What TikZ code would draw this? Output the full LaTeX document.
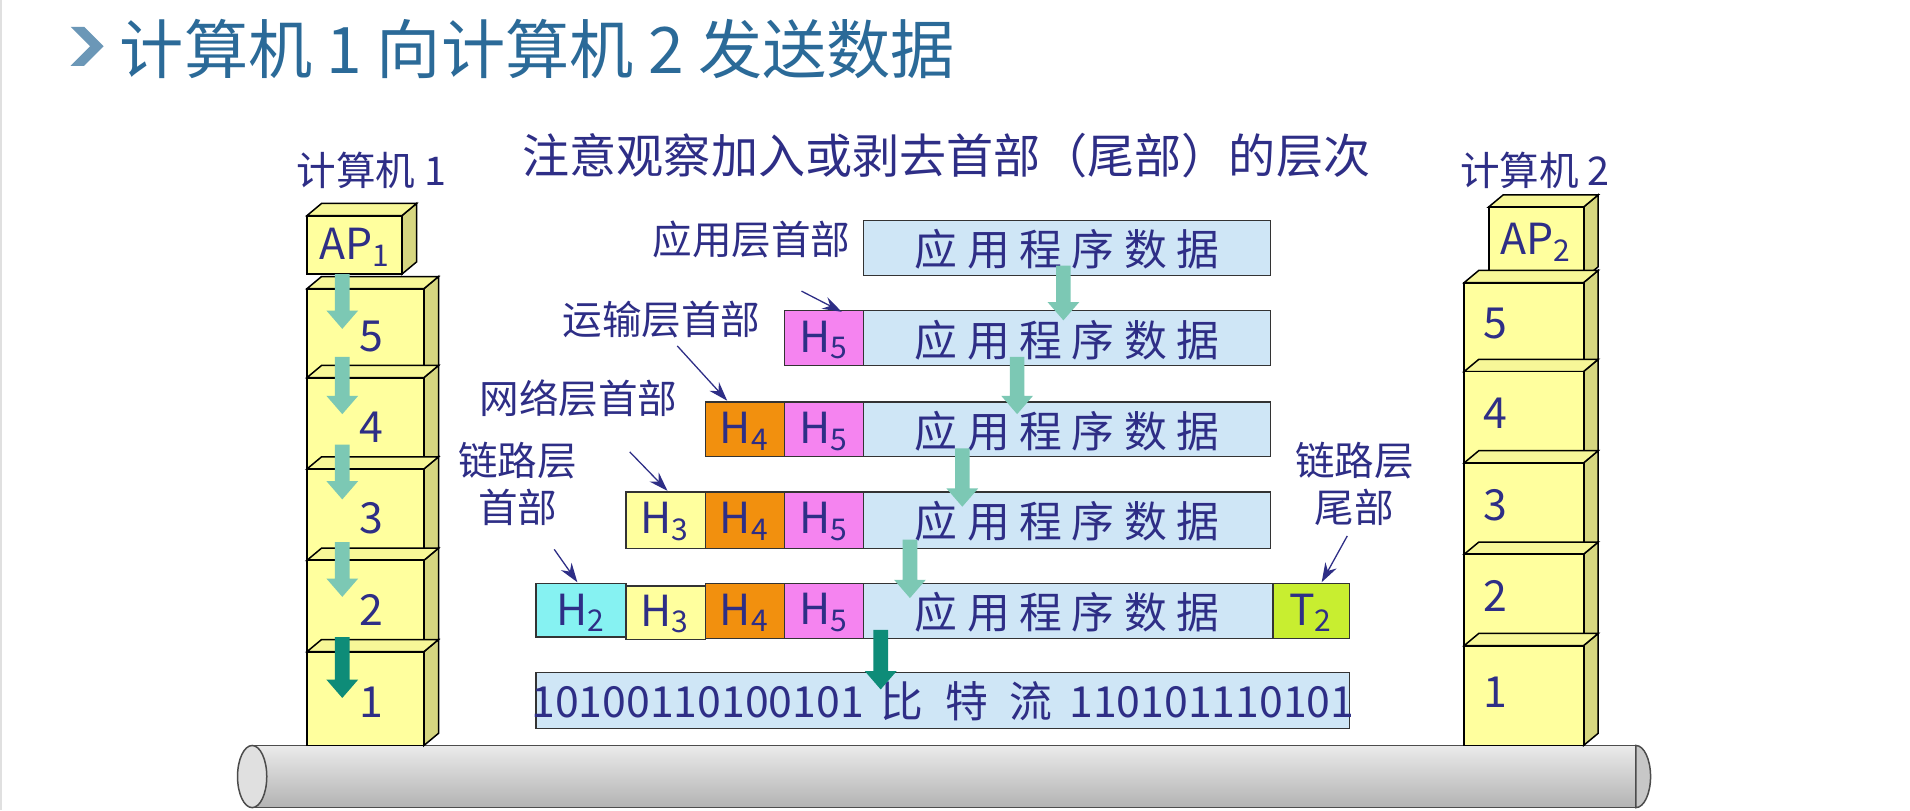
\documentclass[tikz,border=0pt]{standalone}
\usepackage{fontspec}
\setmainfont{Noto Sans CJK SC}
\setsansfont{Noto Sans CJK SC}
\usetikzlibrary{arrows.meta}
\definecolor{ink}{HTML}{2E2E86}
\definecolor{ttl}{HTML}{2B6A98}
\definecolor{dat}{HTML}{CFE6F6}
\definecolor{hfive}{HTML}{F584F0}
\definecolor{hfour}{HTML}{F2900E}
\definecolor{hthree}{HTML}{FFFF9E}
\definecolor{htwo}{HTML}{86F2F2}
\definecolor{ttwo}{HTML}{C8EE30}
\definecolor{lay}{HTML}{FFFF9E}
\definecolor{layside}{HTML}{D6D680}
\definecolor{tl}{HTML}{7CC8B4}
\definecolor{td}{HTML}{0E8C78}
\tikzset{
  cell/.style={draw=black!80, line width=0.6pt, inner sep=0pt, text=ink, font=\fontsize{20}{20}\selectfont},
  lbl/.style={text=ink, font=\fontsize{18.5}{22}\selectfont, align=center, inner sep=1pt},
  num/.style={text=ink, font=\fontsize{20}{20}\selectfont, inner sep=0pt},
  ptr/.style={-{Stealth[length=9pt,width=6pt]}, draw=ink, line width=0.6pt},
}
\newcommand{\cubebox}[4]{% x1 y1 x2 y2
  \fill[layside,draw=black,line width=0.7pt] (#3,#2) -- (#3+12,#2-10) -- (#3+12,#4-10) -- (#3,#4) -- cycle;
  \fill[lay!80!layside,draw=black,line width=0.7pt] (#1,#2) -- (#1+12,#2-10) -- (#3+12,#2-10) -- (#3,#2) -- cycle;
  \fill[lay,draw=black,line width=0.9pt] (#1,#2) rectangle (#3,#4);}
\newcommand{\dnarrow}[4]{% x y1 y2 color
  \fill[#4] (#1-6,#2) -- (#1+6,#2) -- (#1+6,#3-15) -- (#1+13,#3-15) -- (#1,#3) -- (#1-13,#3-15) -- (#1-6,#3-15) -- cycle;}
\begin{document}
\begin{tikzpicture}[x=0.02cm,y=-0.02cm]
\useasboundingbox (0,0) rectangle (1568,665);
\fill[white] (0,0) rectangle (1568,665);
\fill[black!12] (0,0) rectangle (2,665);
% title
\fill[ttl!70] (58,22) -- (69,22) -- (85,38) -- (69,54) -- (58,54) -- (74,38) -- cycle;
\node[anchor=west,text=ttl,font=\fontsize{30}{30}\selectfont,inner sep=0pt] (title) at (98,40) {计算机 1 向计算机 2 发送数据};
\node[text=ink,font=\fontsize{22}{22}\selectfont,inner sep=0pt] (sub) at (777,128) {注意观察加入或剥去首部（尾部）的层次};
% pipe
\shade[top color=black!8,bottom color=black!30] (207,612) rectangle (1343,663);
\draw[black!70,line width=0.7pt] (207,612) -- (1343,612) (207,663) -- (1343,663);
\draw[black!70,line width=0.7pt,fill=black!22] (1343,612) arc[start angle=-90,end angle=90,x radius=12,y radius=25.5] -- cycle;
\draw[fill=black!12,draw=black!70,line width=0.7pt] (207,637.5) ellipse[x radius=12,y radius=25.5];
% left computer
\node[lbl] (c1) at (305,140) {计算机 1};
\cubebox{252}{177}{330}{225}
\node[num] (ap1) at (291,203) {AP\textsubscript{1}};
\foreach \a/\b/\n in {237/310/5,310/385/4,385/460/3,460/535/2,535/612/1}{
  \cubebox{252}{\a}{348}{\b}
  \node[num] (l\n) at (305,{(\a+\b)/2+3}) {\n};}
\foreach \a/\b in {225/270,293/340,365/410,445/490}{\dnarrow{281}{\a}{\b}{tl}}
\dnarrow{281}{523}{573}{td}
% right computer
\node[lbl] (c2) at (1260,140) {计算机 2};
\cubebox{1222}{170}{1300}{229}
\node[num] (ap2) at (1261,199) {AP\textsubscript{2}};
\foreach \a/\b/\n in {232/305/5,305/380/4,380/455/3,455/530/2,530/612/1}{
  \cubebox{1202}{\a}{1300}{\b}
  \node[num] (r\n) at (1228,{(\a+\b)/2-3}) {\n};}
% rows
\def\dt{应 用 程 序 数 据}
\draw[cell,fill=dat] (709,181) rectangle (1043,226);
\node[cell,draw=none] (t1) at (876,205) {\dt};
% row2
\draw[cell,fill=hfive] (644,255) rectangle (709,300);
\draw[cell,fill=dat] (709,255) rectangle (1043,300);
\node[cell,draw=none] (h5b) at (676,279) {H\textsubscript{5}};
\node[cell,draw=none] (t2) at (876,279) {\dt};
% row3
\draw[cell,fill=hfour] (579,330) rectangle (644,375);
\draw[cell,fill=hfive] (644,330) rectangle (709,375);
\draw[cell,fill=dat] (709,330) rectangle (1043,375);
\node[cell,draw=none] (h4c) at (611,354) {H\textsubscript{4}};
\node[cell,draw=none] (h5c) at (676,354) {H\textsubscript{5}};
\node[cell,draw=none] (t3) at (876,354) {\dt};
% row4
\draw[cell,fill=hthree] (514,404) rectangle (579,450);
\draw[cell,fill=hfour] (579,404) rectangle (644,450);
\draw[cell,fill=hfive] (644,404) rectangle (709,450);
\draw[cell,fill=dat] (709,404) rectangle (1043,450);
\node[cell,draw=none] (h3d) at (546,428) {H\textsubscript{3}};
\node[cell,draw=none] (h4d) at (611,428) {H\textsubscript{4}};
\node[cell,draw=none] (h5d) at (676,428) {H\textsubscript{5}};
\node[cell,draw=none] (t4) at (876,428) {\dt};
% row5
\draw[cell,fill=htwo] (440,479) rectangle (514,523);
\draw[cell,fill=hthree] (514,481) rectangle (579,525);
\draw[cell,fill=hfour] (579,479) rectangle (644,524);
\draw[cell,fill=hfive] (644,479) rectangle (709,524);
\draw[cell,fill=dat] (709,479) rectangle (1045,524);
\draw[cell,fill=ttwo] (1045,479) rectangle (1108,524);
\node[cell,draw=none] (h2e) at (477,503) {H\textsubscript{2}};
\node[cell,draw=none] (h3e) at (546,504) {H\textsubscript{3}};
\node[cell,draw=none] (h4e) at (611,503) {H\textsubscript{4}};
\node[cell,draw=none] (h5e) at (676,503) {H\textsubscript{5}};
\node[cell,draw=none] (t5) at (876,503) {\dt};
\node[cell,draw=none] (t2e) at (1076,503) {T\textsubscript{2}};
% bits
\draw[cell,fill=dat] (440,552) rectangle (1108,598);
\node[cell,draw=none] (bits) at (774,576) {10100110100101\hspace{0.4em}比\hspace{0.5em}特\hspace{0.5em}流\hspace{0.4em}110101110101};
% down arrows between rows
\dnarrow{873}{218}{263}{tl}
\dnarrow{835}{293}{340}{tl}
\dnarrow{790}{368}{416}{tl}
\dnarrow{747}{443}{491}{tl}
\dnarrow{723}{517}{566}{td}
% labels
\node[lbl] (la) at (617,197) {应用层首部};
\node[lbl] (lb) at (543,262) {运输层首部};
\node[lbl] (lc) at (475,327) {网络层首部};
\node[lbl] (ld) at (425,397) {链路层\\首部};
\node[lbl] (le) at (1112,397) {链路层\\尾部};
\coordinate (pa) at (691,256);
\coordinate (pb) at (597,329);
\coordinate (pc) at (548,403);
\coordinate (pd) at (474,478);
\coordinate (pe) at (1085,478);
\draw[ptr] (658,239) -- (pa);
\draw[ptr] (556,284) -- (pb);
\draw[ptr] (517,371) -- (pc);
\draw[ptr] (455,451) -- (pd);
\draw[ptr] (1106,440) -- (pe);
\end{tikzpicture}
\end{document}
